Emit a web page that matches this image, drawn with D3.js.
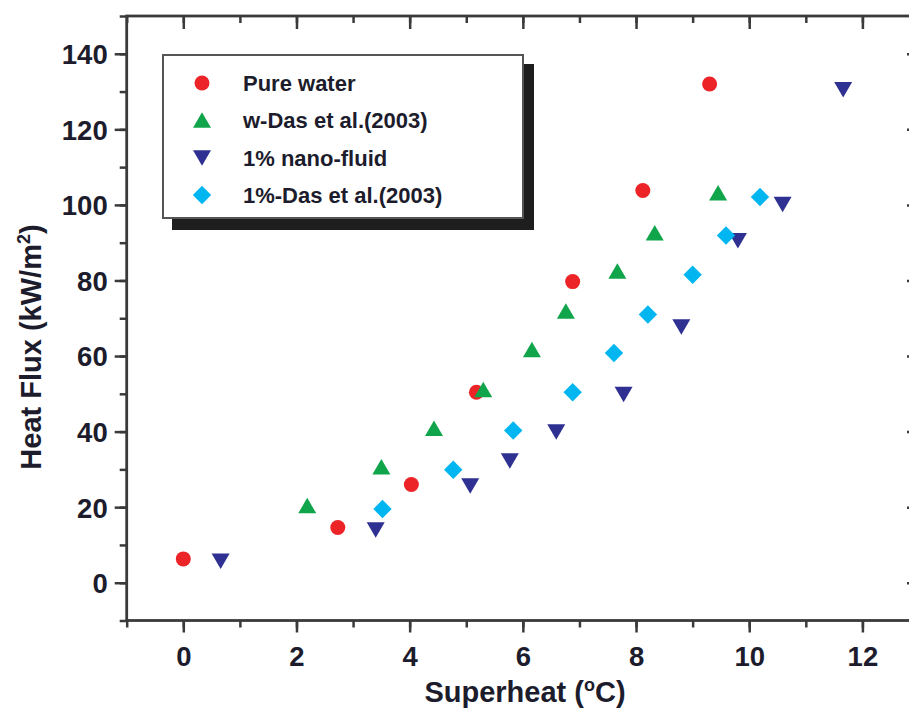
<!DOCTYPE html>
<html lang="en">
<head>
<meta charset="utf-8">
<style>
  html, body { margin: 0; padding: 0; background: #fff; }
  svg { display: block; }
  text { font-family: "Liberation Sans", Arial, sans-serif; font-weight: bold; fill: #1c1c2c; }
</style>
</head>
<body>
<script src="https://d3js.org/d3.v7.min.js"></script>
<script>
// data
const pureX = [0, 2.73, 4.03, 5.18, 6.88, 8.12, 9.3];
const pureY = [6.3, 14.6, 26.0, 50.4, 79.7, 103.8, 132.0];
const wDasX = [2.19, 3.5, 4.43, 5.3, 6.16, 6.76, 7.67, 8.33, 9.45];
const wDasY = [20.4, 30.7, 40.9, 51.1, 61.7, 71.9, 82.5, 92.6, 103.2];
const nanoX = [0.66, 3.4, 5.07, 5.77, 6.59, 7.78, 8.8, 9.8, 10.59, 11.66];
const nanoY = [5.7, 14.0, 25.6, 32.2, 39.9, 49.8, 67.7, 90.5, 100.1, 130.5];
const nDasX = [3.52, 4.77, 5.83, 6.88, 7.61, 8.21, 9.0, 9.59, 10.19];
const nDasY = [19.5, 29.9, 40.3, 50.4, 60.8, 71.0, 81.5, 91.9, 102.1];

const seriesNames = ["Pure water", "w-Das et al.(2003)", "1% nano-fluid", "1%-Das et al.(2003)"];
const seriesColors = ["#ec2327", "#10a54a", "#2e3192", "#00b6f0"];
const seriesShapes = ["circle", "up", "down", "diamond"];

const xTicks = [0, 2, 4, 6, 8, 10, 12];
const yTicks = [0, 20, 40, 60, 80, 100, 120, 140];

const width = 909, height = 709;
const x = d3.scaleLinear().domain([-1, 13]).range([126.7, 919]);
const y = d3.scaleLinear().domain([-10, 150]).range([620.5, 16]);

const svg = d3.select("body").append("svg")
  .attr("width", width).attr("height", height);

function shapePath(kind) {
  if (kind === "circle") return d3.symbol(d3.symbolCircle, 177)();
  if (kind === "up") return "M0,-7.8L9,7.7L-9,7.7Z";
  if (kind === "down") return "M0,7.8L9,-7.7L-9,-7.7Z";
  return "M0,-9.2L9.2,0L0,9.2L-9.2,0Z";
}

// axes
const axisColor = "#3a3a3a";
const g = svg.append("g");

// bottom
g.append("g").attr("transform", `translate(0,${y(-10)})`)
  .call(d3.axisBottom(x).tickValues(d3.range(-1, 14)).tickSize(7).tickFormat(""))
  .call(a => a.select(".domain").remove());
g.append("g").attr("transform", `translate(0,${y(-10)})`)
  .call(d3.axisBottom(x).tickValues(xTicks).tickSize(12).tickPadding(14))
  .call(a => a.select(".domain").remove())
  .call(a => a.selectAll("text").style("font-size", "27.5px").attr("dy", "0.72em"));

// top (ticks pointing in)
g.append("g").attr("transform", `translate(0,${y(150)})`)
  .call(d3.axisBottom(x).tickValues(d3.range(-1, 14)).tickSize(7).tickFormat(""))
  .call(a => a.select(".domain").remove());
g.append("g").attr("transform", `translate(0,${y(150)})`)
  .call(d3.axisBottom(x).tickValues(xTicks).tickSize(13).tickFormat(""))
  .call(a => a.select(".domain").remove());

// left
g.append("g").attr("transform", `translate(${x(-1)},0)`)
  .call(d3.axisLeft(y).tickValues(d3.range(-10, 151, 10)).tickSize(7).tickFormat(""))
  .call(a => a.select(".domain").remove());
g.append("g").attr("transform", `translate(${x(-1)},0)`)
  .call(d3.axisLeft(y).tickValues(yTicks).tickSize(12).tickPadding(7))
  .call(a => a.select(".domain").remove())
  .call(a => a.selectAll("text").style("font-size", "27.5px").attr("dy", "0.36em"));

// right (ticks pointing in)
g.append("g").attr("transform", `translate(${x(13)},0)`)
  .call(d3.axisLeft(y).tickValues(d3.range(-10, 151, 10)).tickSize(7).tickFormat(""))
  .call(a => a.select(".domain").remove());
g.append("g").attr("transform", `translate(${x(13)},0)`)
  .call(d3.axisLeft(y).tickValues(yTicks).tickSize(12).tickFormat(""))
  .call(a => a.select(".domain").remove());

g.selectAll(".tick line").attr("stroke", axisColor).attr("stroke-width", 2.5);
g.selectAll(".tick text").attr("fill", "#1c1c2c");

// frame lines
svg.append("rect")
  .attr("x", x(-1)).attr("y", y(150))
  .attr("width", x(13) - x(-1)).attr("height", y(-10) - y(150))
  .attr("fill", "none").attr("stroke", axisColor).attr("stroke-width", 2.8);

// axis titles
svg.append("text")
  .attr("x", 525).attr("y", 702)
  .attr("text-anchor", "middle")
  .style("font-size", "29px")
  .html('Superheat (<tspan dy="-11" style="font-size:18px">o</tspan><tspan dy="11">C)</tspan>');

svg.append("text")
  .attr("transform", "translate(41,347) rotate(-90)")
  .attr("text-anchor", "middle")
  .style("font-size", "29px")
  .html('Heat Flux (kW/m<tspan dy="-11" style="font-size:18px">2</tspan><tspan dy="11">)</tspan>');

// points
const allSeries = [
  { xs: pureX, ys: pureY },
  { xs: wDasX, ys: wDasY },
  { xs: nanoX, ys: nanoY },
  { xs: nDasX, ys: nDasY }
];
allSeries.forEach((s, i) => {
  svg.append("g").selectAll("path")
    .data(s.xs.map((v, j) => [v, s.ys[j]]))
    .join("path")
      .attr("d", shapePath(seriesShapes[i]))
      .attr("transform", d => `translate(${x(d[0])},${y(d[1])})`)
      .attr("fill", seriesColors[i]);
});

// legend
const lx = 163, ly = 55, lw = 360, lh = 163;
const legend = svg.append("g");
legend.append("rect")
  .attr("x", lx + 9).attr("y", ly + 9).attr("width", lw + 2).attr("height", lh + 3)
  .attr("fill", "#1e1e1e");
legend.append("rect")
  .attr("x", lx).attr("y", ly).attr("width", lw).attr("height", lh)
  .attr("fill", "#fff").attr("stroke", "#555").attr("stroke-width", 2);

const rowY = [83, 120, 158, 195];
seriesNames.forEach((name, i) => {
  legend.append("path")
    .attr("d", shapePath(seriesShapes[i]))
    .attr("transform", `translate(202,${rowY[i]})`)
    .attr("fill", seriesColors[i]);
  legend.append("text")
    .attr("x", 243).attr("y", rowY[i] + 8)
    .style("font-size", "22px")
    .text(name);
});
</script>
</body>
</html>
